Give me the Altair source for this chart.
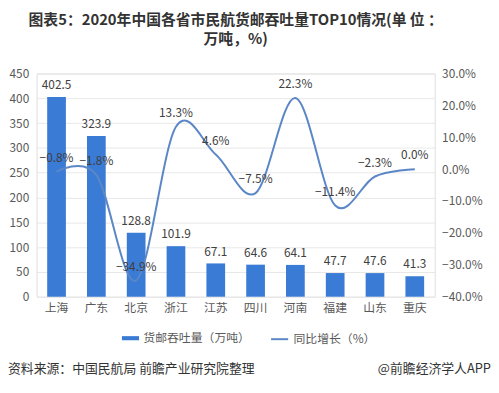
import altair as alt
import pandas as pd

provinces = ["上海", "广东", "北京", "浙江", "江苏", "四川", "河南", "福建", "山东", "重庆"]
volume = [402.5, 323.9, 128.8, 101.9, 67.1, 64.6, 64.1, 47.7, 47.6, 41.3]
growth = [-0.8, -1.8, -34.9, 13.3, 4.6, -7.5, 22.3, -11.4, -2.3, 0.0]

bar_name = "货邮吞吐量（万吨）"
line_name = "同比增长（%）"
title_lines = ["图表5：2020年中国各省市民航货邮吞吐量TOP10情况(单 位 ：", "万吨，%)"]
source_left = "资料来源：中国民航局 前瞻产业研究院整理"
source_right = "@前瞻经济学人APP"

FONT = "Noto Sans CJK SC"
BAR_C = "#3a7bd5"
LINE_C = "#5b87c6"

df = pd.DataFrame({"prov": provinces, "vol": volume, "g": growth})
df["bar_s"] = bar_name
df["line_s"] = line_name

x = alt.X("prov:N", sort=provinces, title=None,
          scale=alt.Scale(paddingInner=0.53, paddingOuter=0.265),
          axis=alt.Axis(labelAngle=0, labelColor="#595959", labelFontSize=12, labelFont=FONT,
                        ticks=False, domain=False, labelPadding=6))

yl = alt.Y("vol:Q", scale=alt.Scale(domain=[0, 450]), title=None,
           axis=alt.Axis(values=list(range(0, 451, 50)), labelColor="#595959", labelFontSize=12,
                         labelFont=FONT, ticks=False, domain=False, gridColor="#e8e8e8",
                         labelPadding=8))
yr = alt.Y("g:Q", scale=alt.Scale(domain=[-40, 30]), title=None,
           axis=alt.Axis(orient="right", values=list(range(-40, 31, 10)), labelColor="#595959",
                         labelFontSize=12, labelFont=FONT, ticks=False, domain=False, grid=False,
                         labelExpr="format(datum.value, '.1f') + '%'", labelPadding=7))

base = alt.Chart(df)

bars = base.mark_bar(color=BAR_C).encode(
    x=x, y=yl,
    color=alt.Color("bar_s:N", scale=alt.Scale(domain=[bar_name], range=[BAR_C]),
                    legend=alt.Legend(title=None, orient="none", legendX=86, legendY=259,
                                      symbolType="M-1,-0.24H1V0.24H-1Z", symbolSize=300,
                                      labelFont=FONT, labelFontSize=12, labelColor="#595959",
                                      symbolStrokeWidth=0)),
)
bar_text = base.mark_text(baseline="bottom", dy=-5, font=FONT, fontSize=12, color="#404040").encode(
    x=x, y=yl, text=alt.Text("vol:Q", format=".1f"))

line = base.mark_line(interpolate="cardinal", strokeWidth=2).encode(
    x=x, y=yr,
    stroke=alt.Stroke("line_s:N", scale=alt.Scale(domain=[line_name], range=[LINE_C]),
                      legend=alt.Legend(title=None, orient="none", legendX=236, legendY=259,
                                        symbolType="stroke", symbolSize=300, symbolStrokeWidth=2,
                                        labelFont=FONT, labelFontSize=12, labelColor="#595959")),
)
line_text = base.transform_calculate(lbl="format(datum.g, '.1f') + '%'").mark_text(
    baseline="middle", dy=-14, font=FONT, fontSize=12, color="#404040").encode(
    x=x, y=yr, text="lbl:N")

src_df = pd.DataFrame({"l": [source_left], "r": [source_right]})
src_l = alt.Chart(src_df).mark_text(align="left", baseline="middle", font=FONT, fontSize=13,
                                    color="#333333").encode(
    x=alt.value(-29), y=alt.value(299), text="l:N")
src_r = alt.Chart(src_df).mark_text(align="right", baseline="middle", font=FONT, fontSize=13,
                                    color="#333333").encode(
    x=alt.value(460), y=alt.value(299), text="r:N")

left_layer = alt.layer(bars, bar_text)
right_layer = alt.layer(line, line_text)

chart = alt.layer(left_layer, right_layer, src_l, src_r).resolve_scale(
    y="independent", color="independent", stroke="independent"
).properties(
    width=403, height=226,
    title=alt.TitleParams(text=title_lines, anchor="middle", fontSize=15, fontWeight="bold",
                          font=FONT, color="#333333", lineHeight=19, offset=21),
    padding={"left": 0, "top": 3, "right": 0, "bottom": 0},
).configure_view(stroke=None).configure(background="white")

chart.save("out.html", embed_options={"renderer": "svg", "actions": False})
